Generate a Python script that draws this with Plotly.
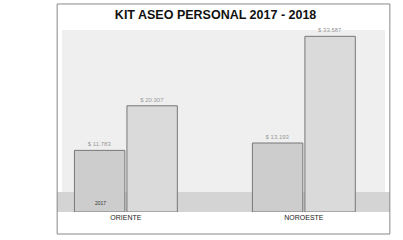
import plotly.graph_objects as go

categories = ["ORIENTE", "NOROESTE"]
series_names = ["2017", "2018"]
values_2017 = [11783, 13193]
values_2018 = [20307, 33587]
title_text = "KIT ASEO PERSONAL 2017 - 2018"

def fmt(v):
    return "$ " + f"{v:,}".replace(",", ".")

fig = go.Figure()
for name, vals, col in [(series_names[0], values_2017, "#cdcdcd"), (series_names[1], values_2018, "#dadada")]:
    fig.add_trace(go.Bar(
        x=categories, y=vals, name=name,
        text=[fmt(v) for v in vals], textposition="outside",
        textfont=dict(size=6, color="#9a9a9a", family="Liberation Sans"),
        marker=dict(color=col, line=dict(color="#777777", width=1)),
        cliponaxis=False,
    ))

fig.add_annotation(x=-0.14, y=1800, xref="x", yref="y", text="2017", showarrow=False,
                   font=dict(size=5, color="#333333", family="Liberation Sans"))

fig.update_layout(
    width=403, height=240,
    margin=dict(l=62, r=18, t=30, b=28),
    paper_bgcolor="white", plot_bgcolor="#efefef",
    barmode="group", bargap=0.41, bargroupgap=0.04,
    showlegend=False,
    title=dict(text="<b>" + title_text + "</b>", x=0.535, xanchor="center", y=0.9375, yanchor="middle",
               font=dict(size=12.5, color="#111111", family="Liberation Sans")),
    xaxis=dict(range=[-0.359, 1.456], showgrid=False, zeroline=False, showline=False, ticks="",
               tickfont=dict(size=7, color="#222222", family="Liberation Sans")),
    yaxis=dict(range=[0, 34800], visible=False),
    shapes=[
        dict(type="rect", xref="paper", yref="paper", x0=-0.015, x1=1.015, y0=0.0, y1=0.11,
             fillcolor="#d4d4d4", line=dict(width=0), layer="below"),
        dict(type="rect", xref="paper", yref="paper", x0=-0.015, x1=1.015, y0=-0.121, y1=1.143,
             fillcolor="rgba(0,0,0,0)", line=dict(color="#888888", width=1)),
    ],
)

fig.write_html("out.html", config={"displayModeBar": False},
               post_script="document.body.style.margin='0';document.body.style.padding='0';")
